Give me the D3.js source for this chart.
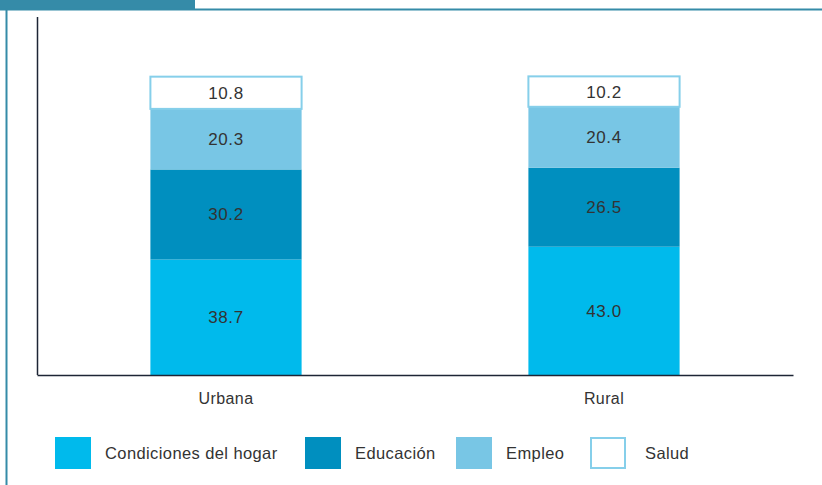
<!DOCTYPE html>
<html>
<head>
<meta charset="utf-8">
<script src="https://cdn.jsdelivr.net/npm/d3@7"></script>
<style>
body { margin: 0; background: #fff; }
text { font-family: "Liberation Sans", Arial, sans-serif; fill: #333; }
</style>
</head>
<body>
<div id="chart"></div>
<script>
var w = 822;
var h = 485;

// data
var areas = ["Urbana", "Rural"];
var series = ["Condiciones del hogar", "Educación", "Empleo", "Salud"];
var condiciones = [38.7, 43.0];
var educacion = [30.2, 26.5];
var empleo = [20.3, 20.4];
var salud = [10.8, 10.2];
var colors = ["#00baec", "#008fbf", "#78c6e5", "#ffffff"];

var rows = areas.map(function(a, i){
    return {area: a, "Condiciones del hogar": condiciones[i], "Educación": educacion[i], "Empleo": empleo[i], "Salud": salud[i]};
});

var svg = d3.select("#chart").append("svg").attr("width", w).attr("height", h);

// frame
svg.append("rect").attr("x", 0).attr("y", 0).attr("width", 195).attr("height", 9).style("fill", "#358ba8");
svg.append("line").attr("x1", 0).attr("x2", w).attr("y1", 9.5).attr("y2", 9.5)
    .style("stroke", "#358ba8").style("stroke-width", 2);
svg.append("line").attr("x1", 6.5).attr("x2", 6.5).attr("y1", 9).attr("y2", h)
    .style("stroke", "#358ba8").style("stroke-width", 2);

var x = d3.scaleBand().domain(areas).range([37, 793]).paddingInner(0.6).paddingOuter(0.3);
var y = d3.scaleLinear().domain([0, 120]).range([375, 17]);
var color = d3.scaleOrdinal().domain(series).range(colors);

var stacked = d3.stack().keys(series)(rows);

var groups = svg.selectAll("g.layer").data(stacked).enter().append("g").attr("class", "layer");

groups.selectAll("rect").data(function(d){ return d; }).enter().append("rect")
    .attr("x", function(d){ return x(d.data.area); })
    .attr("y", function(d){ return y(d[1]); })
    .attr("width", x.bandwidth())
    .attr("height", function(d){ return y(d[0]) - y(d[1]); })
    .style("fill", function(){ return color(d3.select(this.parentNode).datum().key); })
    .each(function(){
        var key = d3.select(this.parentNode).datum().key;
        if (key == "Salud") {
            d3.select(this).style("stroke", "#86cfea").style("stroke-width", 2);
        }
    });

groups.selectAll("text").data(function(d){ return d; }).enter().append("text")
    .text(function(d){ return (d[1] - d[0]).toFixed(1); })
    .attr("x", function(d){ return x(d.data.area) + x.bandwidth()/2; })
    .attr("y", function(d){ return (y(d[0]) + y(d[1]))/2; })
    .attr("dy", "0.35em")
    .attr("text-anchor", "middle")
    .attr("font-size", "17px")
    .attr("letter-spacing", "0.6px");

// axes
svg.append("line").attr("x1", 37.5).attr("x2", 37.5).attr("y1", y(120)).attr("y2", y(0))
    .style("stroke", "#1d2535").style("stroke-width", 1.5);
svg.append("g").attr("transform", "translate(0," + y(0) + ")")
    .call(d3.axisBottom(x).tickSize(0).tickPadding(18))
    .call(function(g){
        g.attr("font-size", null).attr("font-family", null);
        g.select(".domain").style("stroke", "#1d2535").style("stroke-width", 1.5);
        g.selectAll("text").style("font-size", "16px").style("fill", "#333")
            .attr("letter-spacing", "0.4px");
    });

// legend
var legendX = [55, 305, 456, 590];
var legend = svg.selectAll("g.legend").data(series).enter().append("g").attr("class", "legend")
    .attr("transform", function(d, i){ return "translate(" + legendX[i] + ",437)"; });

legend.append("rect")
    .attr("x", function(d){ return d == "Salud" ? 1 : 0; })
    .attr("y", function(d){ return d == "Salud" ? 1 : 0; })
    .attr("width", function(d){ return d == "Salud" ? 34 : 36; })
    .attr("height", function(d){ return d == "Salud" ? 30 : 32; })
    .style("fill", function(d){ return color(d); })
    .style("stroke", function(d){ return d == "Salud" ? "#86cfea" : "none"; })
    .style("stroke-width", 2);

legend.append("text")
    .text(function(d){ return d; })
    .attr("x", function(d){ return d == "Salud" ? 55 : 50; })
    .attr("y", 22)
    .attr("font-size", "16.5px")
    .attr("letter-spacing", "0.4px");
</script>
</body>
</html>
